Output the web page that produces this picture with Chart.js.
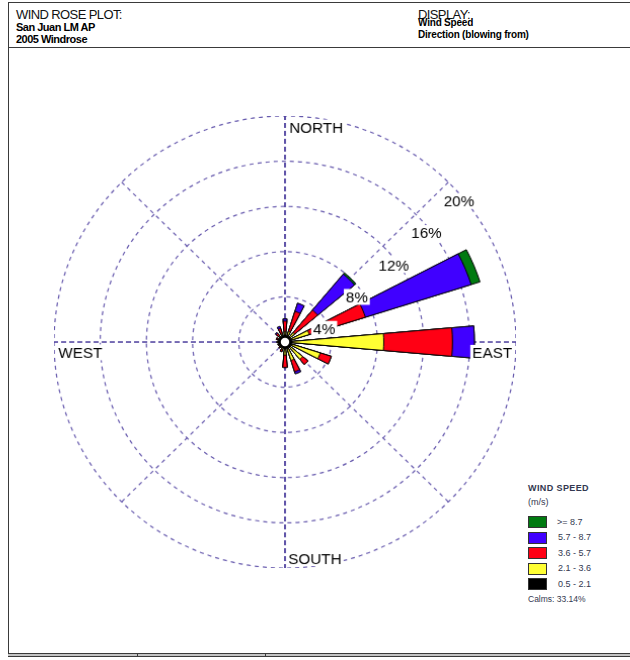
<!DOCTYPE html>
<html>
<head>
<meta charset="utf-8">
<script src="https://cdn.jsdelivr.net/npm/chart.js@4.4.1/dist/chart.umd.min.js"></script>
<style>
  html, body { margin: 0; padding: 0; background: #fff; }
  body { width: 630px; height: 660px; position: relative; overflow: hidden;
         font-family: "Liberation Sans", Arial, sans-serif; color: #111; }
  .frame { position: absolute; left: 8px; top: 2px; width: 700px; height: 652px;
           border-left: 1.5px solid #3a3a3a; border-top: 1.5px solid #3a3a3a; }
  .sep { position: absolute; left: 8px; top: 47px; width: 640px; border-top: 1.5px solid #3a3a3a; }
  .foot { position: absolute; left: 8px; top: 653px; width: 640px; height: 2px; background: #c4c4c4;
          border-top: 1px solid #3a3a3a; border-bottom: 1px solid #3a3a3a; }
  .foot-tick { position: absolute; top: 653px; width: 1px; height: 4px; background: #3a3a3a; }
  .t { position: absolute; white-space: nowrap; line-height: 1; }
  .h1 { font-size: 13px; letter-spacing: -0.6px; color: #111; }
  .hb { font-size: 11px; font-weight: bold; letter-spacing: -0.5px; color: #000; }
  .hs { font-size: 10px; font-weight: bold; letter-spacing: -0.2px; color: #000; }
  .lg { font-size: 9px; color: #333850; }
  .box { position: absolute; left: 528px; width: 19px; height: 12px; box-sizing: border-box;
         border: 1.5px solid #333; }
</style>
</head>
<body>
<div class="frame"></div>
<div class="sep"></div>
<div class="foot"></div>
<div class="foot-tick" style="left:137px"></div>
<div class="foot-tick" style="left:265px"></div>

<div class="t h1" style="left:16px; top:8px;">WIND ROSE PLOT:</div>
<div class="t hb" style="left:16px; top:22px;">San Juan LM AP</div>
<div class="t hb" style="left:16px; top:34px;">2005 Windrose</div>
<div class="t h1" style="left:418px; top:8px;">DISPLAY:</div>
<div class="t hs" style="left:418px; top:18px;">Wind Speed</div>
<div class="t hs" style="left:418px; top:30px;">Direction (blowing from)</div>

<canvas id="rose" width="456" height="456"
        style="position:absolute; left:54px; top:116px; width:462px; height:452px;"></canvas>

<div id="legend"></div>

<script>
// Compass sectors, clockwise from north
const directions = ['N', 'NNE', 'NE', 'ENE', 'E', 'ESE', 'SE', 'SSE',
                    'S', 'SSW', 'SW', 'WSW', 'W', 'WNW', 'NW', 'NNW'];

// Frequency of occurrence (%) per sector, one list per wind speed class (m/s)
const freq_05_21 = [0.6, 0.6, 0.6, 0.6, 0.6, 0.6, 0.6, 0.6, 0.6, 0.55, 0.55, 0.55, 0.6, 0.6, 0.6, 0.6];
const freq_21_36 = [0.3, 0.4, 0.5, 1.6, 7.95, 2.6, 1.4, 1.1, 0.55, 0.15, 0.05, 0.05, 0.05, 0.05, 0.1, 0.15];
const freq_36_57 = [0.95, 1.85, 2.6, 5.1, 5.95, 1.0, 0.6, 1.05, 1.1, 0.2, 0.1, 0.05, 0.05, 0.15, 0.3, 0.5];
const freq_57_87 = [0.2, 0.75, 4.15, 9.6, 1.9, 0, 0, 0.2, 0, 0, 0, 0, 0, 0, 0.1, 0.2];
const freq_87_up = [0, 0, 0.15, 0.8, 0, 0, 0, 0, 0, 0, 0, 0, 0, 0, 0, 0];

const speedClasses = ['0.5 - 2.1', '2.1 - 3.6', '3.6 - 5.7', '5.7 - 8.7', '>= 8.7'];
const speedColors  = ['#000000', '#ffff33', '#ff0014', '#4000ff', '#007a10'];
const calmsPct = 33.14;

// Percentage rings and compass labels on the grid
const ringTicks = [4, 8, 12, 16, 20];
const compassLabels = ['NORTH', '', 'EAST', '', 'SOUTH', '', 'WEST', ''];

// ---- stacked petals: each class is drawn as the running total, smallest on top
const classes = [freq_05_21, freq_21_36, freq_36_57, freq_57_87, freq_87_up];
const cumulative = classes.map((_, c) =>
  directions.map((_, i) => classes.slice(0, c + 1).reduce((s, arr) => s + arr[i], 0)));

// Petals are narrower than their sector; empty slots fill the space between them.
const SECTOR = 360 / directions.length;
const PETAL = 10;
const slots = [{ dir: null, angle: SECTOR - PETAL / 2 }];
for (let k = 1; k <= directions.length; k++) {
  slots.push({ dir: k % directions.length, angle: PETAL });
  if (k < directions.length) slots.push({ dir: null, angle: SECTOR - PETAL });
}

const datasets = cumulative.map((vals, c) => ({
  label: speedClasses[c],
  data: slots.map(s => (s.dir === null ? 0 : vals[s.dir])),
  backgroundColor: speedColors[c],
  borderColor: '#000',
  borderWidth: ctx => (slots[ctx.dataIndex].dir === null ? 0 : 1),
  angle: ctx => slots[ctx.dataIndex].angle
}));

// Ring percentages, compass words and the calm circle
const roseText = {
  id: 'roseText',
  afterDatasetsDraw(chart) {
    const r = chart.scales.r;
    const ctx = chart.ctx;
    const rect = chart.canvas.getBoundingClientRect();
    const sx = chart.width / rect.width;
    const sy = chart.height / rect.height;

    ctx.save();
    ctx.beginPath();
    ctx.arc(r.xCenter, r.yCenter, 5, 0, Math.PI * 2);
    ctx.fillStyle = '#fff';
    ctx.fill();
    ctx.lineWidth = 1.6;
    ctx.strokeStyle = '#000';
    ctx.stroke();

    ctx.font = '15px "Liberation Sans", Arial, sans-serif';
    ctx.textAlign = 'left';
    ctx.textBaseline = 'alphabetic';

    const put = (text, x, cy, align) => {
      const w = ctx.measureText(text).width;
      const left = align === 'right' ? x - w : x;
      ctx.fillStyle = '#fff';
      ctx.fillRect(left - 2, cy - 8, w + 4, 16);
      ctx.fillStyle = '#000';
      ctx.fillText(text, left, cy + 5.4);
    };

    ringTicks.forEach(v => {
      const p = r.getPointPositionForValue(1, v);
      put(v + '%', p.x - 4.5 * sx, p.y + 18.8 * sy, 'left');
    });

    const max = r.max;
    const pn = r.getPointPositionForValue(0, max);
    const pe = r.getPointPositionForValue(2, max);
    const ps = r.getPointPositionForValue(4, max);
    const pw = r.getPointPositionForValue(6, max);
    put(compassLabels[0], pn.x + 4.3 * sx, pn.y + 11.5 * sy, 'left');
    put(compassLabels[2], pe.x - 4 * sx, pe.y + 10.8 * sy, 'right');
    put(compassLabels[4], ps.x + 3.3 * sx, ps.y - 9.8 * sy, 'left');
    put(compassLabels[6], pw.x + 4.3 * sx, pw.y + 10.3 * sy, 'left');
    ctx.restore();
  }
};

new Chart(document.getElementById('rose'), {
  type: 'polarArea',
  data: {
    labels: slots.map(s => (s.dir === null ? '' : directions[s.dir])),
    datasets
  },
  options: {
    responsive: false,
    animation: false,
    events: [],
    layout: { padding: 0 },
    plugins: { legend: { display: false }, tooltip: { enabled: false } },
    scales: {
      r: {
        labels: compassLabels,
        min: 0,
        max: 20,
        startAngle: 0,
        ticks: { display: false, stepSize: 4 },
        pointLabels: { display: false },
        grid: { circular: true, color: '#6659ad', lineWidth: 1.2 },
        border: { dash: [4, 4] },
        angleLines: {
          display: true,
          color: ctx => (ctx.index % 2 ? '#6659ad' : '#47399b'),
          lineWidth: ctx => (ctx.index % 2 ? 1.2 : 1.7),
          borderDash: ctx => (ctx.index % 2 ? [4, 4] : [5, 3])
        }
      }
    }
  },
  plugins: [roseText]
});

// Speed class key, highest class first
const legend = document.getElementById('legend');
const add = (html, style, cls) => {
  const d = document.createElement('div');
  d.className = cls;
  d.style.cssText = style;
  d.innerHTML = html;
  legend.appendChild(d);
};
add('WIND SPEED', 'left:528px; top:484px; font-weight:bold; letter-spacing:0.4px;', 't lg');
add('(m/s)', 'left:528px; top:498px;', 't lg');
for (let j = 0; j < speedClasses.length; j++) {
  const c = speedClasses.length - 1 - j;
  const top = 516 + j * 15.6;
  add('', `top:${top}px; background:${speedColors[c]};`, 'box');
  add(speedClasses[c], `left:${c === 4 ? 557 : 558}px; top:${top + 1.5}px;`, 't lg');
}
add('Calms: ' + calmsPct.toFixed(2) + '%', 'left:528px; top:595px; font-size:8.5px;', 't lg');
</script>
</body>
</html>
